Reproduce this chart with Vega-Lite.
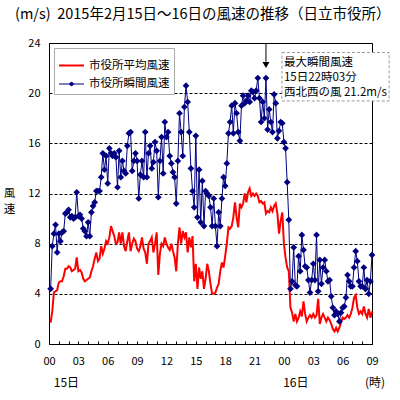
{
"$schema": "https://vega.github.io/schema/vega-lite/v6.json",
"width": 323, "height": 301,
"autosize": {"type": "none"},
"padding": {"left": 49, "top": 43, "right": 28, "bottom": 56},
"background": "white",
"title": {"text": "(m/s)\u00a0\u00a02015年2月15日～16日の風速の推移（日立市役所）", "anchor": "start", "frame": "group", "dx": -34, "offset": 15, "fontSize": 14.5, "font": "Noto Sans CJK JP", "fontWeight": "normal", "color": "black"},
"config": {"view": {"stroke": "black", "strokeWidth": 1}, "font": "Noto Sans CJK JP",
  "axis": {"labelFont": "Noto Sans CJK JP", "labelColor": "black", "labelFontSize": 11}},
"datasets": {"wind": [
{"t":10,"a":1.7,"g":4.4},{"t":20,"a":2.6,"g":7.8},{"t":30,"a":4.1,"g":8.8},{"t":40,"a":4.2,"g":9.5},{"t":50,"a":4.3,"g":7.3},{"t":60,"a":4.9,"g":8.8},
{"t":70,"a":5.0,"g":8.2},{"t":80,"a":5.0,"g":8.9},{"t":90,"a":5.4,"g":9.0},{"t":100,"a":6.0,"g":10.4},{"t":110,"a":6.0,"g":10.5},{"t":120,"a":6.2,"g":10.7},
{"t":130,"a":6.1,"g":10.1},{"t":140,"a":5.8,"g":10.2},{"t":150,"a":5.9,"g":10.0},{"t":160,"a":6.0,"g":10.1},{"t":170,"a":6.9,"g":12.1},{"t":180,"a":5.8,"g":10.2},
{"t":190,"a":5.9,"g":10.3},{"t":200,"a":5.7,"g":10.0},{"t":210,"a":5.2,"g":9.2},{"t":220,"a":5.0,"g":9.0},{"t":230,"a":5.1,"g":8.6},{"t":240,"a":5.2,"g":9.7},
{"t":250,"a":5.3,"g":8.6},{"t":260,"a":5.8,"g":10.5},{"t":270,"a":6.2,"g":11.0},{"t":280,"a":6.8,"g":11.3},{"t":290,"a":7.3,"g":12.2},{"t":300,"a":6.6,"g":12.2},
{"t":310,"a":6.8,"g":12.2},{"t":320,"a":7.8,"g":13.3},{"t":330,"a":7.2,"g":15.2},{"t":340,"a":7.6,"g":13.9},{"t":350,"a":8.2,"g":15.0},{"t":360,"a":8.0,"g":12.8},
{"t":370,"a":8.5,"g":15.6},{"t":380,"a":9.4,"g":15.2},{"t":390,"a":9.0,"g":15.0},{"t":400,"a":8.6,"g":15.2},{"t":410,"a":8.0,"g":14.9},{"t":420,"a":8.1,"g":12.5},
{"t":430,"a":8.9,"g":15.4},{"t":440,"a":8.0,"g":13.3},{"t":450,"a":8.9,"g":14.6},{"t":460,"a":7.8,"g":13.8},{"t":470,"a":7.4,"g":13.6},{"t":480,"a":8.2,"g":15.8},
{"t":490,"a":8.9,"g":16.8},{"t":500,"a":7.4,"g":16.9},{"t":510,"a":8.0,"g":13.8},{"t":520,"a":8.4,"g":14.6},{"t":530,"a":8.2,"g":15.2},{"t":540,"a":7.6,"g":14.6},
{"t":550,"a":7.4,"g":11.6},{"t":560,"a":7.8,"g":13.5},{"t":570,"a":8.5,"g":14.6},{"t":580,"a":7.6,"g":13.3},{"t":590,"a":7.3,"g":16.9},{"t":600,"a":6.4,"g":13.3},
{"t":610,"a":8.0,"g":15.2},{"t":620,"a":8.2,"g":15.8},{"t":630,"a":8.5,"g":14.0},{"t":640,"a":7.3,"g":14.5},{"t":650,"a":8.0,"g":16.1},{"t":660,"a":8.9,"g":15.4},
{"t":670,"a":5.5,"g":11.7},{"t":680,"a":7.2,"g":14.6},{"t":690,"a":8.0,"g":16.5},{"t":700,"a":7.8,"g":13.6},{"t":710,"a":8.5,"g":17.7},{"t":720,"a":8.0,"g":16.5},
{"t":730,"a":7.7,"g":16.9},{"t":740,"a":7.5,"g":15.0},{"t":750,"a":8.0,"g":14.4},{"t":760,"a":7.4,"g":13.7},{"t":770,"a":6.9,"g":13.3},{"t":780,"a":5.8,"g":11.2},
{"t":790,"a":8.0,"g":14.6},{"t":800,"a":9.3,"g":18.4},{"t":810,"a":8.0,"g":16.9},{"t":820,"a":9.0,"g":15.0},{"t":830,"a":8.5,"g":18.9},{"t":840,"a":8.9,"g":20.6},
{"t":850,"a":7.3,"g":19.3},{"t":860,"a":8.5,"g":16.9},{"t":870,"a":7.7,"g":14.0},{"t":880,"a":8.6,"g":12.2},{"t":890,"a":5.0,"g":10.9},{"t":900,"a":6.4,"g":16.6},
{"t":910,"a":4.4,"g":10.1},{"t":920,"a":6.1,"g":13.9},{"t":930,"a":5.2,"g":9.7},{"t":940,"a":5.8,"g":13.0},{"t":950,"a":4.4,"g":9.4},{"t":960,"a":5.2,"g":12.2},
{"t":970,"a":6.4,"g":12.0},{"t":980,"a":5.8,"g":11.8},{"t":990,"a":4.8,"g":10.9},{"t":1000,"a":4.0,"g":9.4},{"t":1010,"a":4.0,"g":11.6},{"t":1020,"a":4.1,"g":9.4},
{"t":1030,"a":4.5,"g":7.8},{"t":1040,"a":4.8,"g":10.5},{"t":1050,"a":5.8,"g":9.4},{"t":1060,"a":6.5,"g":11.6},{"t":1070,"a":6.1,"g":13.3},{"t":1080,"a":7.0,"g":12.6},
{"t":1090,"a":8.0,"g":14.4},{"t":1100,"a":9.3,"g":16.8},{"t":1110,"a":9.2,"g":17.7},{"t":1120,"a":9.4,"g":19.0},{"t":1130,"a":10.1,"g":16.8},{"t":1140,"a":11.3,"g":19.2},
{"t":1150,"a":10.1,"g":18.4},{"t":1160,"a":9.3,"g":16.9},{"t":1170,"a":11.2,"g":16.2},{"t":1180,"a":10.9,"g":19.0},{"t":1190,"a":11.2,"g":19.8},{"t":1200,"a":12.0,"g":19.2},
{"t":1210,"a":11.3,"g":19.4},{"t":1220,"a":12.1,"g":19.8},{"t":1230,"a":12.4,"g":19.3},{"t":1240,"a":11.8,"g":20.2},{"t":1250,"a":12.0,"g":20.1},{"t":1260,"a":11.8,"g":19.6},
{"t":1270,"a":12.0,"g":20.2},{"t":1280,"a":11.8,"g":21.2},{"t":1290,"a":11.3,"g":19.6},{"t":1300,"a":11.4,"g":17.7},{"t":1310,"a":11.2,"g":19.3},{"t":1320,"a":11.3,"g":18.0},
{"t":1330,"a":10.4,"g":21.2},{"t":1340,"a":10.6,"g":17.1},{"t":1350,"a":10.5,"g":18.7},{"t":1360,"a":10.9,"g":17.7},{"t":1370,"a":10.6,"g":16.9},{"t":1380,"a":11.0,"g":19.9},
{"t":1390,"a":11.2,"g":19.2},{"t":1400,"a":10.4,"g":16.4},{"t":1410,"a":8.8,"g":17.0},{"t":1420,"a":9.8,"g":17.7},{"t":1430,"a":10.5,"g":17.6},{"t":1440,"a":8.0,"g":16.1},
{"t":1450,"a":6.9,"g":15.6},{"t":1460,"a":6.1,"g":12.9},{"t":1470,"a":5.8,"g":9.9},{"t":1480,"a":2.9,"g":4.4},{"t":1490,"a":2.5,"g":5.0},{"t":1500,"a":1.8,"g":7.7},
{"t":1510,"a":2.4,"g":4.7},{"t":1520,"a":1.8,"g":4.6},{"t":1530,"a":2.1,"g":7.0},{"t":1540,"a":2.6,"g":5.8},{"t":1550,"a":2.2,"g":8.7},{"t":1560,"a":3.4,"g":7.5},
{"t":1570,"a":2.4,"g":6.2},{"t":1580,"a":1.8,"g":6.1},{"t":1590,"a":2.1,"g":5.1},{"t":1600,"a":2.3,"g":4.1},{"t":1610,"a":2.1,"g":5.1},{"t":1620,"a":2.4,"g":6.4},
{"t":1630,"a":2.1,"g":5.1},{"t":1640,"a":2.3,"g":8.7},{"t":1650,"a":3.6,"g":4.2},{"t":1660,"a":1.6,"g":6.7},{"t":1670,"a":2.1,"g":4.8},{"t":1680,"a":2.4,"g":6.1},
{"t":1690,"a":2.1,"g":6.7},{"t":1700,"a":1.8,"g":5.8},{"t":1710,"a":2.1,"g":5.0},{"t":1720,"a":1.9,"g":5.1},{"t":1730,"a":1.6,"g":3.8},{"t":1740,"a":1.2,"g":2.9},
{"t":1750,"a":1.0,"g":2.3},{"t":1760,"a":1.3,"g":2.6},{"t":1770,"a":1.0,"g":2.4},{"t":1780,"a":1.3,"g":1.8},{"t":1790,"a":1.7,"g":2.5},{"t":1800,"a":2.1,"g":2.9},
{"t":1810,"a":2.0,"g":3.0},{"t":1820,"a":2.1,"g":3.7},{"t":1830,"a":2.3,"g":5.5},{"t":1840,"a":2.1,"g":5.0},{"t":1850,"a":2.4,"g":4.6},{"t":1860,"a":2.9,"g":4.6},
{"t":1870,"a":3.7,"g":6.1},{"t":1880,"a":3.9,"g":7.4},{"t":1890,"a":2.9,"g":6.6},{"t":1900,"a":2.4,"g":5.0},{"t":1910,"a":2.6,"g":4.6},{"t":1920,"a":2.4,"g":4.6},
{"t":1930,"a":3.0,"g":6.1},{"t":1940,"a":2.4,"g":4.4},{"t":1950,"a":2.1,"g":5.1},{"t":1960,"a":2.8,"g":4.0},{"t":1970,"a":2.1,"g":5.0},{"t":1980,"a":2.6,"g":7.1}
]},
"encoding": {
  "x": {"field": "t", "type": "quantitative", "scale": {"domain": [0, 1980], "nice": false, "zero": false},
        "axis": {"title": null, "values": [0,60,120,180,240,300,360,420,480,540,600,660,720,780,840,900,960,1020,1080,1140,1200,1260,1320,1380,1440,1500,1560,1620,1680,1740,1800,1860,1920,1980],
                 "labelExpr": "datum.value % 180 == 0 ? (((datum.value/60) % 24) < 10 ? '0' : '') + ((datum.value/60) % 24) : ''",
                 "labelOverlap": false, "labelFlush": false, "grid": false, "domain": false, "offset": -3, "tickSize": 3, "tickColor": "black", "tickWidth": 1, "labelPadding": 11}}
},
"layer": [
{"data": {"name": "wind"},
 "transform": [{"fold": ["g", "a"], "as": ["key", "v"]}],
 "mark": {"type": "line"},
 "encoding": {
  "y": {"field": "v", "type": "quantitative", "scale": {"domain": [0, 24], "nice": false},
        "axis": {"values": [0,4,8,12,16,20,24], "grid": true, "gridColor": "black", "gridDash": [3,2], "gridOpacity": 1, "domain": false, "ticks": false, "labelPadding": 9,
                 "title": ["風","速"], "titleAngle": 0, "titleX": -40, "titleY": 150, "titleAlign": "center", "titleBaseline": "middle", "titleFontSize": 11.5, "titleFontWeight": "normal", "titleFont": "Noto Sans CJK JP", "titleColor": "black", "titleLineHeight": 16}},
  "color": {"field": "key", "type": "nominal", "scale": {"domain": ["a", "g"], "range": ["#ff0000", "#000080"]},
            "legend": {"title": null, "orient": "top-left", "offset": 5, "fillColor": "white", "strokeColor": "#aaaaaa", "padding": 4, "rowPadding": 0,
                       "labelFontSize": 11.5, "labelFont": "Noto Sans CJK JP", "labelColor": "black", "symbolType": "stroke", "symbolSize": 625, "symbolStrokeWidth": 2,
                       "labelExpr": "datum.value == 'a' ? '市役所平均風速' : '市役所瞬間風速'",
                       "encode": {"symbols": {"update": {
                          "shape": {"signal": "datum.value == 'g' ? 'M-1,0L1,0M0,-0.17L0.17,0L0,0.17L-0.17,0Z' : 'stroke'"},
                          "fill": {"signal": "datum.value == 'g' ? '#000080' : 'transparent'"},
                          "strokeWidth": {"signal": "datum.value == 'g' ? 1.2 : 2"}}}}}},
  "strokeWidth": {"field": "key", "type": "nominal", "scale": {"domain": ["a", "g"], "range": [2, 1]}, "legend": null}
 }},
{"data": {"name": "wind"},
 "mark": {"type": "point", "shape": "diamond", "filled": true, "size": 45, "color": "#000080", "opacity": 1},
 "encoding": {"y": {"field": "g", "type": "quantitative"}}},
{"data": {"values": [{"t": 107, "y": -3.1, "s": "15日"}, {"t": 1513, "y": -3.1, "s": "16日"}, {"t": 1999, "y": -3.1, "s": "(時)"}]},
 "mark": {"type": "text", "fontSize": 12, "font": "Noto Sans CJK JP", "color": "black", "baseline": "middle"},
 "encoding": {"y": {"field": "y", "type": "quantitative"}, "text": {"field": "s"}}},
{"data": {"values": [{"t": 1428, "t2": 2085, "y1": 23.24, "y2": 19.38}]},
 "mark": {"type": "rect", "fill": "white", "stroke": "#999999", "strokeDash": [3, 2], "strokeWidth": 1},
 "encoding": {"x2": {"field": "t2"}, "y": {"field": "y1", "type": "quantitative"}, "y2": {"field": "y2"}}},
{"data": {"values": [{"t": 1440, "y": 22.4, "s": "最大瞬間風速"}, {"t": 1440, "y": 21.2, "s": "15日22時03分"}, {"t": 1440, "y": 20.0, "s": "西北西の風 21.2m/s"}]},
 "mark": {"type": "text", "fontSize": 11.5, "font": "Noto Sans CJK JP", "color": "black", "align": "left", "baseline": "middle"},
 "encoding": {"y": {"field": "y", "type": "quantitative"}, "text": {"field": "s"}}},
{"data": {"values": [{"t": 1330, "y": 24, "y2": 22.5}]},
 "mark": {"type": "rule", "color": "black", "strokeWidth": 1},
 "encoding": {"y": {"field": "y", "type": "quantitative"}, "y2": {"field": "y2"}}},
{"data": {"values": [{"t": 1330, "y": 22.25}]},
 "mark": {"type": "point", "shape": "triangle-down", "filled": true, "size": 50, "color": "black", "opacity": 1},
 "encoding": {"y": {"field": "y", "type": "quantitative"}}}
]
}
